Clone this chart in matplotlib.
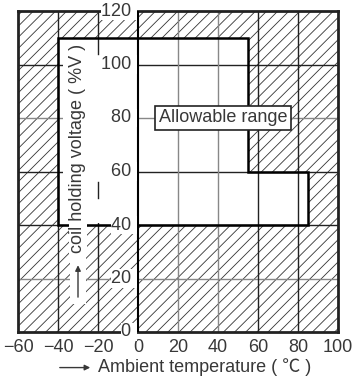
import matplotlib
matplotlib.use("Agg")
import matplotlib.pyplot as plt
from matplotlib.patches import Rectangle, Polygon

plt.rcParams['font.family'] = ['Liberation Sans', 'Noto Sans CJK JP', 'DejaVu Sans']
plt.rcParams['hatch.linewidth'] = 0.6
plt.rcParams['hatch.color'] = '#333333'

# allowable range outline (temperature, voltage)
range_x = [-40, 55, 55, 85, 85, -40]
range_y = [110, 110, 60, 60, 40, 40]

x_ticks = [-60, -40, -20, 0, 20, 40, 60, 80, 100]
y_ticks = [0, 20, 40, 60, 80, 100, 120]
dark_h = [40, 60, 100]
gray_h = [20, 80]
dark_v = [-40, -20, 60, 80]
gray_v = [20, 40]

txt = '#383838'
fs = 13

fig = plt.figure(figsize=(3.55, 3.83), dpi=100)
ax = fig.add_axes([18/355, 51/383, 320/355, 321/383])
ax.set_xlim(-60, 100)
ax.set_ylim(0, 120)

# hatched background (outside the range)
ax.add_patch(Rectangle((-60, 0), 160, 120, facecolor='white', edgecolor='#333333',
                       hatch='///', lw=0, zorder=1))
# white inside of allowable range
ax.add_patch(Polygon(list(zip(range_x, range_y)), closed=True, facecolor='white',
                     edgecolor='none', zorder=1.5))

for v in dark_h:
    ax.axhline(v, color='#222222', lw=1.0, zorder=2)
for v in gray_h:
    ax.axhline(v, color='#888888', lw=1.0, zorder=2)
for v in dark_v:
    ax.axvline(v, color='#222222', lw=1.0, zorder=2)
for v in gray_v:
    ax.axvline(v, color='#888888', lw=1.0, zorder=2)

# blank area for the axis title inside the range
ax.add_patch(Rectangle((-37.5, 40.6), 37.5, 68.8, facecolor='white', edgecolor='none', zorder=2.2))
ax.plot([-20, -20], [104, 110], color='#222222', lw=1.0, zorder=2.3)
ax.plot([-20, -20], [50, 56], color='#222222', lw=1.0, zorder=2.3)

ax.add_patch(Polygon(list(zip(range_x, range_y)), closed=True, facecolor='none',
                     edgecolor='black', lw=1.8, zorder=3))
ax.axvline(0, color='black', lw=1.5, zorder=3)

for s in ax.spines.values():
    s.set_linewidth(2)
    s.set_color('#222222')

ax.set_xticks(x_ticks)
ax.set_xticklabels([str(v).replace('-', '\u2212') for v in x_ticks], fontsize=fs, color=txt)
ax.tick_params(axis='x', length=0, pad=5)
ax.set_yticks([])

for v in y_ticks:
    ax.text(-0.8, v, f"{v} ", ha='right', va='center', fontsize=fs, color=txt, zorder=5,
            clip_on=False, bbox=dict(facecolor='white', edgecolor='none', pad=0.5))

ax.text(42.5, 80, "Allowable range", ha='center', va='center', fontsize=fs, color=txt, zorder=5,
        bbox=dict(facecolor='white', edgecolor='#222222', lw=1.2, pad=2.5))

# y axis title inside plot
ax.text(-30, 29.5, "coil holding voltage ( %V )", rotation=90, ha='center', va='bottom',
        fontsize=fs, color=txt, zorder=5,
        bbox=dict(facecolor='white', edgecolor='none', pad=0.5))
ax.add_patch(Rectangle((-34, 10.5), 8, 19.5, facecolor='white', edgecolor='none', zorder=4))
ax.annotate('', xy=(-30, 26), xytext=(-30, 12),
            arrowprops=dict(arrowstyle='-|>', color=txt, lw=1, mutation_scale=8), zorder=5)

# x axis title
ax.text(-20, -13.3, "Ambient temperature ( \u2103 )", ha='left', va='center', fontsize=fs,
        color=txt, clip_on=False)
ax.annotate('', xy=(-22.5, -13.3), xytext=(-40.5, -13.3), annotation_clip=False,
            arrowprops=dict(arrowstyle='-|>', color=txt, lw=1, mutation_scale=8))

fig.savefig('out.png', dpi=100)
